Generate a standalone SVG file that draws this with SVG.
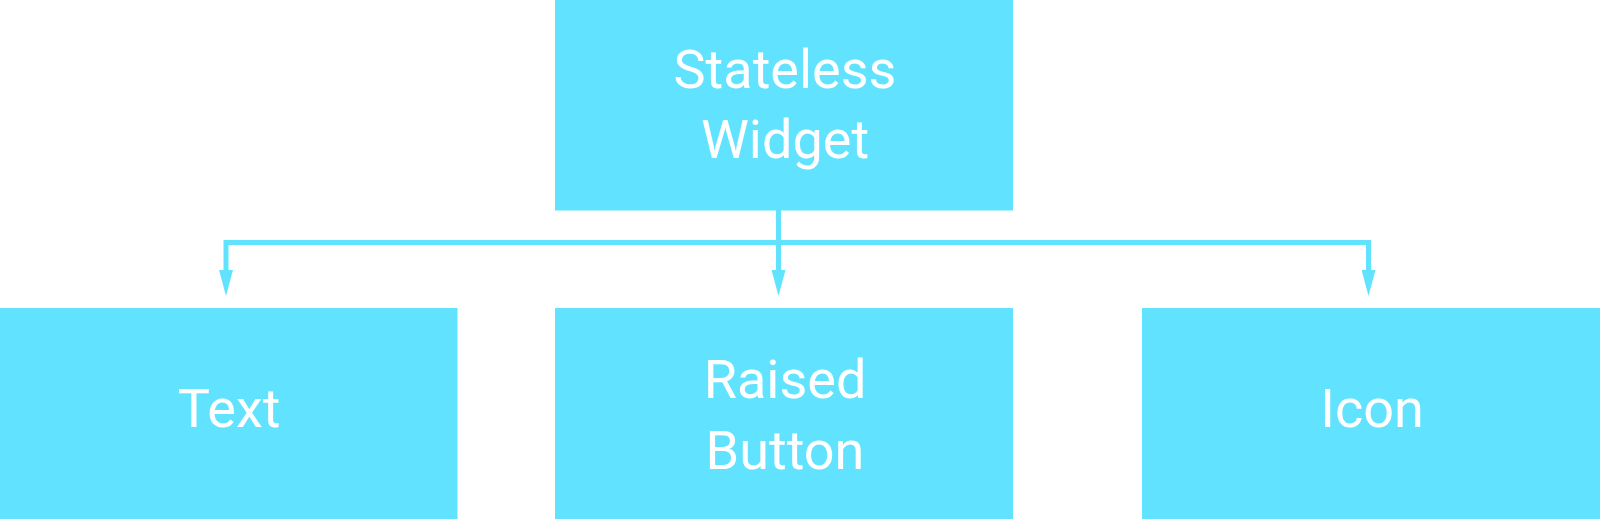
<svg xmlns="http://www.w3.org/2000/svg" width="1600" height="519" viewBox="0 0 1600 519">
  <style>
    .box { fill: #61E3FF; }
    .lbl { fill: #FFFFFF; font-family: Roboto, "Noto Sans", "Liberation Sans", sans-serif; font-size: 54px; text-anchor: middle; }
    .conn { fill: none; stroke: #61E3FF; stroke-width: 5; stroke-linejoin: miter; }
  </style>
  <defs>
    <marker id="arrow" viewBox="0 0 26 14" refX="2" refY="7" markerWidth="26" markerHeight="14" markerUnits="userSpaceOnUse" orient="auto">
      <path d="M0,0 L26,7 L0,14 Z" fill="#61E3FF"/>
    </marker>
  </defs>
  <rect width="1600" height="519" fill="#FFFFFF"/>
  <g id="connectors">
    <path class="conn" d="M778.5,210 V272" marker-end="url(#arrow)"/>
    <path class="conn" d="M778.5,242.5 H226 V272" marker-end="url(#arrow)"/>
    <path class="conn" d="M778.5,242.5 H1368.5 V272" marker-end="url(#arrow)"/>
  </g>
  <g id="stateless-widget">
    <rect class="box" x="555" y="0" width="458" height="210.5"/>
    <text class="lbl" x="785" y="88">Stateless</text>
    <text class="lbl" x="785" y="158">Widget</text>
  </g>
  <g id="text">
    <rect class="box" x="0" y="308" width="457.5" height="211"/>
    <text class="lbl" x="229" y="427">Text</text>
  </g>
  <g id="raised-button">
    <rect class="box" x="555" y="308" width="458" height="211"/>
    <text class="lbl" x="785" y="398">Raised</text>
    <text class="lbl" x="785" y="469">Button</text>
  </g>
  <g id="icon">
    <rect class="box" x="1142" y="308" width="458" height="211"/>
    <text class="lbl" x="1372" y="427">Icon</text>
  </g>
</svg>
